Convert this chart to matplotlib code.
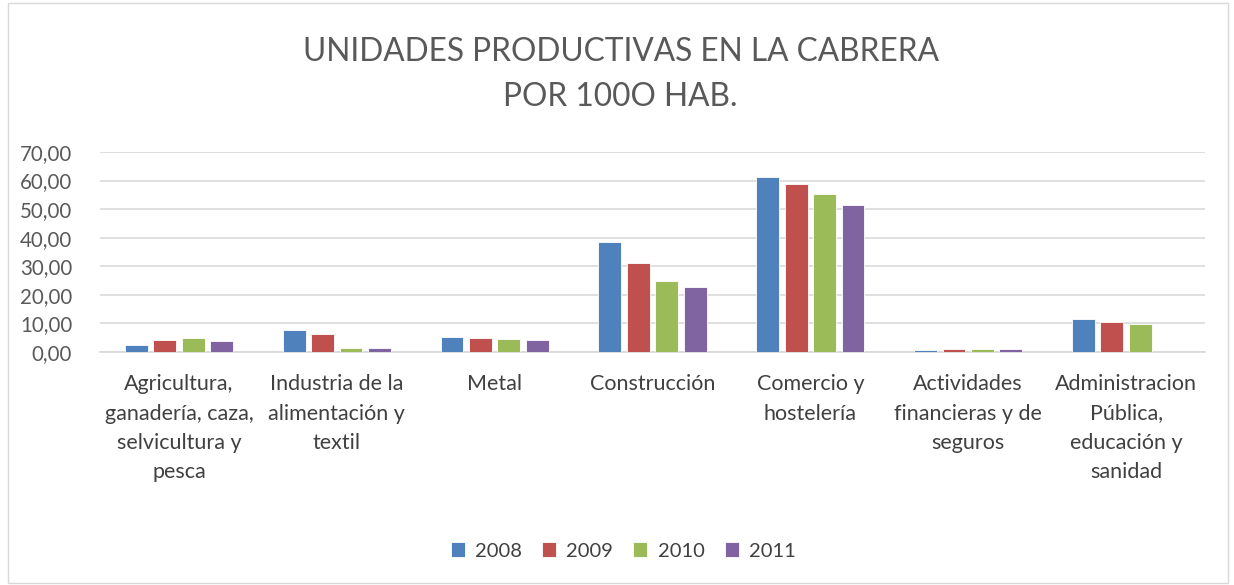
import numpy as np
import matplotlib.pyplot as plt
from matplotlib.patches import Rectangle

plt.rcParams['font.family'] = ['Lato', 'DejaVu Sans']

# data
categories = ['Agricultura,\nganadería, caza,\nselvicultura y\npesca',
              'Industria de la\nalimentación y\ntextil',
              'Metal',
              'Construcción',
              'Comercio y\nhostelería',
              'Actividades\nfinancieras y de\nseguros',
              'Administracion\nPública,\neducación y\nsanidad']
years = ['2008', '2009', '2010', '2011']
v2008 = [2.4, 7.6, 5.1, 38.4, 61.1, 0.6, 11.5]
v2009 = [4.2, 6.3, 5.0, 31.0, 58.7, 1.0, 10.6]
v2010 = [4.9, 1.4, 4.5, 24.7, 55.3, 0.9, 9.7]
v2011 = [3.7, 1.3, 4.2, 22.9, 51.4, 1.0, 0.0]
colors = ['#4F81BD', '#C0504D', '#9BBB59', '#8064A2']

fig = plt.figure(figsize=(12.34, 5.85), dpi=100)
ax = fig.add_axes([100/1234, 1 - 352/585, 1105/1234, 200/585])

x = np.arange(len(categories))
w = 0.145
step = 0.18
for i, (vals, c, lab) in enumerate(zip([v2008, v2009, v2010, v2011], colors, years)):
    ax.bar(x + (i - 1.5) * step, vals, width=w, color=c, label=lab, zorder=3,
           edgecolor='white', linewidth=0.6)

ax.set_xlim(-0.5, len(categories) - 0.5)
ax.set_ylim(0, 70)
ax.set_yticks(np.arange(0, 71, 10))
ax.set_yticklabels([f'{v:.2f}'.replace('.', ',') for v in np.arange(0, 71, 10)],
                   fontsize=14.8, color='#595959')
ax.yaxis.grid(True, color='#D9D9D9', linewidth=1.2, zorder=0)
ax.tick_params(axis='y', length=0, pad=20)
ax.set_xticks(x)
ax.set_xticklabels(categories, fontsize=15.5, color='#404040', linespacing=1.58, va='top')
ax.tick_params(axis='x', length=0, pad=16)
for s in ['top', 'right', 'left']:
    ax.spines[s].set_visible(False)
ax.spines['bottom'].set_color('#D9D9D9')
ax.spines['bottom'].set_linewidth(1.2)

fig.text(0.503, 1 - 52/585, 'UNIDADES PRODUCTIVAS EN LA CABRERA', ha='center', va='center',
         fontsize=22.8, color='#595959')
fig.text(0.503, 1 - 97/585, 'POR 100O HAB.', ha='center', va='center',
         fontsize=22.8, color='#595959')

fig.legend(loc='center', bbox_to_anchor=(0.505, 1 - 551/585), ncol=4, frameon=False,
           fontsize=14.5, handlelength=0.7, handleheight=0.7, handletextpad=0.5,
           columnspacing=1.0, labelcolor='#404040')

fig.patches.append(Rectangle((8/1234, 2/585), 1220/1234, 580/585, transform=fig.transFigure,
                             fill=False, edgecolor='#D9D9D9', linewidth=1))

fig.savefig('out.png', dpi=100, facecolor='white')
